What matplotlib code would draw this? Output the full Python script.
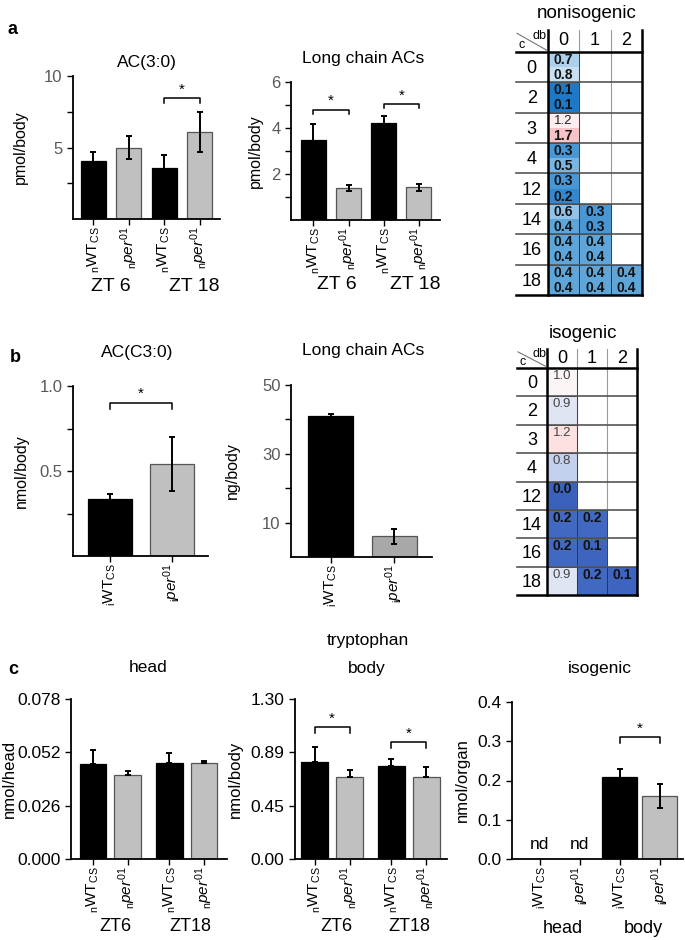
import numpy as np
import matplotlib
matplotlib.use("Agg")
import matplotlib.pyplot as plt
from matplotlib.colors import LinearSegmentedColormap, Normalize
from matplotlib.patches import Rectangle

plt.rcParams["font.family"] = ["Liberation Sans", "DejaVu Sans"]
plt.rcParams["mathtext.fontset"] = "custom"
plt.rcParams["mathtext.rm"] = "Liberation Sans"
plt.rcParams["mathtext.it"] = "Liberation Sans:italic"
plt.rcParams["mathtext.bf"] = "Liberation Sans:bold"

# ── data ──────────────────────────────────────────────────────────────────────
# panel a (nonisogenic, ZT6 / ZT18)
a_ac3_mean = [4.05, 5.0, 3.55, 6.1]
a_ac3_err = [0.65, 0.8, 0.9, 1.38]
a_long_mean = [3.5, 1.4, 4.2, 1.43]
a_long_err = [0.67, 0.13, 0.32, 0.15]

# panel b (isogenic)
b_ac3_mean = [0.335, 0.54]
b_ac3_err = [0.03, 0.16]
b_long_mean = [41.0, 6.0]
b_long_err = [0.5, 2.1]

# panel c tryptophan
c_head_mean = [0.0463, 0.041, 0.0468, 0.0468]
c_head_err = [0.0067, 0.002, 0.005, 0.0012]
c_body_mean = [0.79, 0.666, 0.756, 0.666]
c_body_err = [0.12, 0.057, 0.055, 0.085]
c_iso_mean = [0.21, 0.16]
c_iso_err = [0.02, 0.03]

# heatmaps: fold change per chain length (c) / double bonds (db)
chain_rows = ["0", "2", "3", "4", "12", "14", "16", "18"]
db_cols = ["0", "1", "2"]
noniso_zt6 = [[0.7], [0.1], [1.2], [0.3], [0.3], [0.6, 0.3], [0.4, 0.4], [0.4, 0.4, 0.4]]
noniso_zt18 = [[0.8], [0.1], [1.7], [0.5], [0.2], [0.4, 0.3], [0.4, 0.4], [0.4, 0.4, 0.4]]
noniso_sig6 = [[1], [1], [0], [1], [1], [1, 1], [1, 1], [1, 1, 1]]
noniso_sig18 = [[1], [1], [1], [1], [1], [1, 1], [1, 1], [1, 1, 1]]
iso_vals = [[1.0], [0.9], [1.2], [0.8], [0.0], [0.2, 0.2], [0.2, 0.1], [0.9, 0.2, 0.1]]
iso_sig = [[0], [0], [0], [0], [1], [1, 1], [1, 1], [0, 1, 1]]

WT_n = r"${}_{\mathrm{n}}\mathrm{WT}_{\mathrm{CS}}$"
PER_n = r"${}_{\mathrm{n}}\mathit{per}^{01}$"
WT_i = r"${}_{\mathrm{i}}\mathrm{WT}_{\mathrm{CS}}$"
PER_i = r"${}_{\mathrm{i}}\mathit{per}^{01}$"

BLACK = "black"
GREY = "#c0c0c0"
GREY2 = "#a8a8a8"

W, H = 685, 940
fig = plt.figure(figsize=(W / 100, H / 100), dpi=100)


def px_axes(x0, y0, x1, y1):
    return fig.add_axes([x0 / W, 1 - y1 / H, (x1 - x0) / W, (y1 - y0) / H])


def ftext(x, y, s, **kw):
    fig.text(x / W, 1 - y / H, s, ha="center", va="center", **kw)


def bar_panel(ax, pos, means, errs, colors, width, xlim, ylim, one_sided=False,
              tick_color="#595959", tick_fs=12):
    edges = ["black" if c == BLACK else "#555555" for c in colors]
    ax.bar(pos, means, width, color=colors, edgecolor=edges, linewidth=0.9, zorder=2)
    errs = np.asarray(errs)
    yerr = [np.zeros_like(errs), errs] if one_sided else errs
    ax.errorbar(pos, means, yerr=yerr, fmt="none", ecolor="black",
                elinewidth=1.4, capsize=2.5, capthick=1.4, zorder=3)
    ax.set_xlim(*xlim)
    ax.set_ylim(*ylim)
    for s in ["top", "right"]:
        ax.spines[s].set_visible(False)
    for s in ["left", "bottom"]:
        ax.spines[s].set_linewidth(1.3)
    ax.tick_params(axis="y", length=4, width=1, labelsize=tick_fs, labelcolor=tick_color)
    ax.tick_params(axis="x", length=4, width=1, labelsize=11, pad=1)
    ax.patch.set_alpha(0)


def bracket(ax, x0, x1, y, drop):
    ax.plot([x0, x0, x1, x1], [y - drop, y, y, y - drop], color="black", lw=1.1,
            clip_on=False, zorder=4)
    ax.text((x0 + x1) / 2, y + drop * 0.3, "*", ha="center", va="bottom", fontsize=11,
            clip_on=False)


def group_labels(ax, xs, labels, y, fs=14):
    for x, lab in zip(xs, labels):
        ax.text(x, y, lab, ha="center", va="center", fontsize=fs,
                transform=ax.get_xaxis_transform(), clip_on=False)


# ── panel a ───────────────────────────────────────────────────────────────────
ftext(13, 30, "a", fontsize=13, fontweight="bold")
ftext(147, 62, "AC(3:0)", fontsize=12.5)
ax = px_axes(73, 76, 220, 219)
bar_panel(ax, [0, 1, 2, 3], a_ac3_mean, a_ac3_err, [BLACK, GREY, BLACK, GREY],
          0.71, (-0.58, 3.58), (0, 10))
ax.set_yticks([2.5, 5, 7.5, 10], ["", "5", "", "10"])
ax.set_xticks([0, 1, 2, 3], [WT_n, PER_n, WT_n, PER_n], rotation=90)
ax.set_ylabel("pmol/body", fontsize=11.5)
ax.yaxis.set_label_coords(-0.31, 0.5)
bracket(ax, 2, 3, 8.45, 0.35)
group_labels(ax, [0.5, 2.85], ["ZT 6", "ZT 18"], -0.47)

ftext(363, 58, "Long chain ACs", fontsize=12.5)
ax = px_axes(291, 82, 440, 220)
bar_panel(ax, [0, 1, 2, 3], a_long_mean, a_long_err, [BLACK, GREY, BLACK, GREY],
          0.71, (-0.64, 3.6), (0, 6))
ax.set_yticks([1, 2, 3, 4, 5, 6], ["", "2", "", "4", "", "6"])
ax.set_xticks([0, 1, 2, 3], [WT_n, PER_n, WT_n, PER_n], rotation=90)
ax.set_ylabel("pmol/body", fontsize=11.5)
ax.yaxis.set_label_coords(-0.19, 0.5)
bracket(ax, 0, 1, 4.8, 0.2)
bracket(ax, 2, 3, 5.05, 0.2)
group_labels(ax, [0.67, 2.9], ["ZT 6", "ZT 18"], -0.47)

# ── panel b ───────────────────────────────────────────────────────────────────
ftext(15, 357, "b", fontsize=13, fontweight="bold")
ftext(137, 353, "AC(C3:0)", fontsize=12.5)
ax = px_axes(73, 386, 208, 556)
bar_panel(ax, [0, 1], b_ac3_mean, b_ac3_err, [BLACK, GREY], 0.71, (-0.6, 1.58), (0, 1.0))
ax.set_yticks([0.25, 0.5, 0.75, 1.0], ["", "0.5", "", "1.0"])
ax.set_xticks([0, 1], [WT_i, PER_i], rotation=90)
ax.set_ylabel("nmol/body", fontsize=11.5)
ax.yaxis.set_label_coords(-0.33, 0.5)
bracket(ax, 0, 1, 0.9, 0.035)

ftext(363, 350, "Long chain ACs", fontsize=12.5)
ax = px_axes(291, 385, 432, 557)
bar_panel(ax, [0, 1], b_long_mean, b_long_err, [BLACK, GREY2], 0.7, (-0.62, 1.59), (0, 50))
ax.set_yticks([10, 20, 30, 40, 50], ["10", "", "30", "", "50"])
ax.set_xticks([0, 1], [WT_i, PER_i], rotation=90)
ax.set_ylabel("ng/body", fontsize=11.5)
ax.yaxis.set_label_coords(-0.36, 0.5)

# ── panel c ───────────────────────────────────────────────────────────────────
ftext(13, 670, "c", fontsize=13, fontweight="bold")
ftext(368, 640, "tryptophan", fontsize=12.5)
ftext(148, 668, "head", fontsize=12.5)
ftext(367, 668, "body", fontsize=12.5)
ftext(600, 668, "isogenic", fontsize=12.5)

c_pos = [0, 1, 2.2, 3.2]
ax = px_axes(71, 699, 227, 859)
bar_panel(ax, c_pos, c_head_mean, c_head_err, [BLACK, GREY, BLACK, GREY], 0.77,
          (-0.63, 3.86), (0, 0.078), one_sided=True, tick_color="black", tick_fs=12.5)
head_ticks = [0.0, 0.026, 0.052, 0.078]
ax.set_yticks(head_ticks, [f"{t:.3f}" for t in head_ticks])
ax.set_xticks(c_pos, [WT_n, PER_n, WT_n, PER_n], rotation=90)
ax.set_ylabel("nmol/head", fontsize=12)
ax.yaxis.set_label_coords(-0.345, 0.5)
group_labels(ax, [0.66, 2.8], ["ZT6", "ZT18"], -0.42, fs=13)

ax = px_axes(295, 699, 447, 859)
bar_panel(ax, c_pos, c_body_mean, c_body_err, [BLACK, GREY, BLACK, GREY], 0.77,
          (-0.57, 3.8), (0, 1.3), one_sided=True, tick_color="black", tick_fs=12.5)
ax.set_yticks(np.linspace(0, 1.3, 4), ["0.00", "0.45", "0.89", "1.30"])
ax.set_xticks(c_pos, [WT_n, PER_n, WT_n, PER_n], rotation=90)
ax.set_ylabel("nmol/body", fontsize=12)
ax.yaxis.set_label_coords(-0.34, 0.5)
bracket(ax, 0, 1, 1.07, 0.045)
bracket(ax, 2.2, 3.2, 0.95, 0.045)
group_labels(ax, [0.63, 2.72], ["ZT6", "ZT18"], -0.42, fs=13)

ax = px_axes(512, 702, 683, 859)
bar_panel(ax, [2, 3], c_iso_mean, c_iso_err, [BLACK, GREY], 0.88,
          (-0.7, 3.58), (0, 0.4), tick_color="black", tick_fs=12.5)
ax.set_yticks([0, 0.1, 0.2, 0.3, 0.4], ["0.0", "0.1", "0.2", "0.3", "0.4"])
ax.set_xticks([0, 1, 2, 3], [WT_i, PER_i, WT_i, PER_i], rotation=90)
ax.set_ylabel("nmol/organ", fontsize=12)
ax.yaxis.set_label_coords(-0.245, 0.5)
for x in [0, 1]:
    ax.text(x, 0.036, "nd", ha="center", va="center", fontsize=12.5)
bracket(ax, 2, 3, 0.31, 0.015)
group_labels(ax, [0.58, 2.58], ["head", "body"], -0.44, fs=13)

# ── heatmaps ──────────────────────────────────────────────────────────────────
cmap_noniso = LinearSegmentedColormap.from_list("noniso", [
    (0.0, "#1570c2"), (0.05, "#1f78c8"), (0.2, "#5ea6da"), (0.4, "#c8e0f2"),
    (0.5, "#ffffff"), (0.85, "#f6c4c6"), (1.0, "#f2a0a0")])
cmap_iso = LinearSegmentedColormap.from_list("iso", [
    (0.0, "#3a62bd"), (0.1, "#4169c2"), (0.4, "#c3d1ec"), (0.45, "#dfe5f4"),
    (0.5, "#fbf5f6"), (0.6, "#fde0e0"), (1.0, "#f08080")])
norm = Normalize(0, 2)


def draw_table(ax, hdr, layers, sigs, cmap, text_offsets, fs, text_col):
    n_rows = len(chain_rows)
    ax.set_xlim(-1, len(db_cols))
    ax.set_ylim(n_rows, -hdr)
    ax.axis("off")
    n_layers = len(layers)
    for r in range(n_rows):
        for li, (vals, sg) in enumerate(zip(layers, sigs)):
            h = 1.0 / n_layers
            for c, v in enumerate(vals[r]):
                ax.add_patch(Rectangle((c, r + li * h), 1, h, facecolor=cmap(norm(v)),
                                       edgecolor="none", zorder=1))
                bold = sg[r][c] == 1
                ax.text(c + 0.5, r + text_offsets[li], f"{v:.1f}", ha="center", va="center",
                        fontsize=fs if bold else fs - 0.5,
                        fontweight="bold" if bold else "normal",
                        color="#111111" if bold else text_col, zorder=3)
        # colored cell outlines
        for c in range(len(layers[0][r])):
            ax.add_patch(Rectangle((c, r), 1, 1, facecolor="none", edgecolor="#333333",
                                   lw=0.6, zorder=2))
        ax.text(-0.5, r + 0.55, chain_rows[r], ha="center", va="center", fontsize=13)
    for c, lab in enumerate(db_cols):
        ax.text(c + 0.5, -hdr / 2, lab, ha="center", va="center", fontsize=13)
    # grid
    for c in [1, 2]:
        ax.plot([c, c], [-hdr, n_rows], color="#9a9a9a", lw=0.8, zorder=1.5, clip_on=False)
    for r in range(1, n_rows):
        ax.plot([-1, len(db_cols)], [r, r], color="#555555", lw=1.2, zorder=2.5, clip_on=False)
    ax.plot([0, 0], [-hdr, n_rows], color="black", lw=1.8, zorder=4, clip_on=False)
    ax.plot([len(db_cols)] * 2, [-hdr, n_rows], color="black", lw=1.8, zorder=4, clip_on=False)
    ax.plot([-1, len(db_cols)], [0, 0], color="black", lw=1.8, zorder=4, clip_on=False)
    ax.plot([-1, len(db_cols)], [n_rows, n_rows], color="black", lw=1.8, zorder=4,
            clip_on=False)
    # diagonal header cell
    ax.plot([-0.97, -0.03], [-hdr * 0.85, -hdr * 0.08], color="#777777", lw=0.8, zorder=4)
    ax.text(-0.82, -hdr * 0.3, "c", ha="center", va="center", fontsize=9)
    ax.text(-0.25, -hdr * 0.72, "db", ha="center", va="center", fontsize=9)


ftext(587, 13, "nonisogenic", fontsize=13.5)
ax = px_axes(516, 30, 642, 295)
draw_table(ax, 0.72, [noniso_zt6, noniso_zt18], [noniso_sig6, noniso_sig18], cmap_noniso,
           [0.26, 0.76], 10, "#222222")

ftext(583, 333, "isogenic", fontsize=13.5)
ax = px_axes(517, 349, 637, 595)
draw_table(ax, 0.67, [iso_vals], [iso_sig], cmap_iso, [0.28], 10, "#444444")

fig.savefig("out.png", dpi=100)
plt.close(fig)
